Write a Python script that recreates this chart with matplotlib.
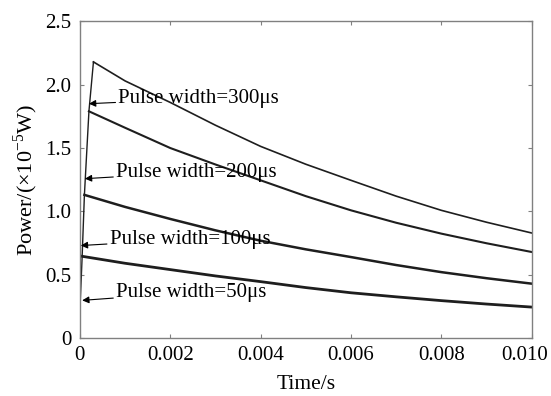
import matplotlib.pyplot as plt
import matplotlib.transforms as mtransforms

plt.rcParams['font.family'] = ['Liberation Serif', 'DejaVu Serif']
plt.rcParams['mathtext.fontset'] = 'custom'
plt.rcParams['mathtext.rm'] = 'Liberation Serif'

# common rise (shared by all pulses), power in 1e-5 W
t_rise = [0.0, 0.00005, 0.0001, 0.0002, 0.0003]
p_rise = [0.22, 0.645, 1.13, 1.79, 2.18]

# decay part
t_dec = [0.001, 0.002, 0.003, 0.004, 0.005, 0.006, 0.007, 0.008, 0.009, 0.010]
p_300 = [2.03, 1.86, 1.68, 1.513, 1.372, 1.245, 1.12, 1.008, 0.914, 0.829]
p_200 = [1.66, 1.50, 1.37, 1.245, 1.12, 1.008, 0.91, 0.824, 0.748, 0.679]
p_100 = [1.035, 0.94, 0.85, 0.768, 0.70, 0.639, 0.576, 0.52, 0.472, 0.429]
p_50 = [0.59, 0.54, 0.49, 0.445, 0.398, 0.357, 0.325, 0.295, 0.268, 0.244]
pulse = [0.0003, 0.0002, 0.0001, 0.00005]
peak = [2.18, 1.79, 1.13, 0.645]

labels = ['Pulse width=300\u03bcs', 'Pulse width=200\u03bcs',
          'Pulse width=100\u03bcs', 'Pulse width=50\u03bcs']
arrow_tips = [(0.0002, 1.85), (0.00011, 1.258), (0.00002, 0.73), (0.00005, 0.297)]
text_pos = [(0.00085, 1.89), (0.00080, 1.31), (0.00066, 0.78), (0.00080, 0.36)]

fig = plt.figure(figsize=(5.51, 3.96), dpi=100)
ax = fig.add_axes([0.145, 0.1465, 0.82, 0.7995])

col = '#1e1e1e'
ax.plot(t_rise, p_rise, color=col, lw=1.0)
for pw, pk, pp, lw in zip(pulse, peak, [p_300, p_200, p_100, p_50],
                          [1.2, 1.5, 1.8, 2.0]):
    ax.plot([pw] + t_dec, [pk] + pp, color=col, lw=lw)

for lab, tip, pos in zip(labels, arrow_tips, text_pos):
    ax.annotate(lab, xy=tip, xytext=pos, fontsize=15, va='center', ha='left',
                arrowprops=dict(arrowstyle='-|>', color='black', lw=0.8,
                                mutation_scale=10, shrinkA=0, shrinkB=0))

ax.set_xlim(0, 0.010)
ax.set_ylim(0, 2.5)
ax.set_xticks([0, 0.002, 0.004, 0.006, 0.008, 0.010])
ax.set_xticklabels(['0', '0.002', '0.004', '0.006', '0.008', '0.010'])
ax.set_yticks([0, 0.5, 1.0, 1.5, 2.0, 2.5])
ax.set_yticklabels(['0', '0.5', '1.0', '1.5', '2.0', '2.5'])
ax.tick_params(direction='in', length=3, top=True, right=True,
               labelsize=15, color='#808080', pad=6)
for s in ax.spines.values():
    s.set_color('#808080')
    s.set_linewidth(1.0)

# last x label sits a bit left of its tick in the original
last = ax.get_xticklabels()[-1]
last.set_transform(last.get_transform() +
                   mtransforms.ScaledTranslation(-0.07, 0, fig.dpi_scale_trans))

ax.set_xlabel('Time/s', fontsize=15.5, labelpad=7)
ax.set_ylabel('Power/(\u00d710$^{-5}$W)', fontsize=16, labelpad=4)

fig.savefig('out.png', dpi=100)
